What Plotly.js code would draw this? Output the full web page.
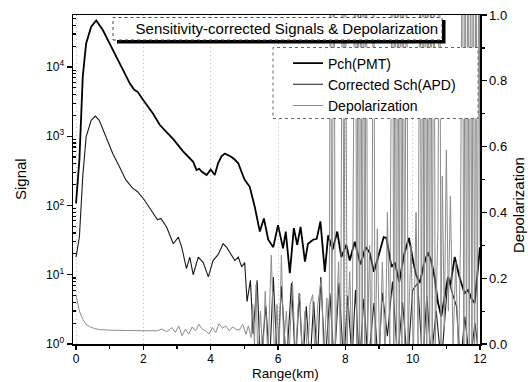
<!DOCTYPE html>
<html>
<head>
<meta charset="utf-8">
<script src="https://cdn.plot.ly/plotly-3.0.1.min.js"></script>
<style>html,body{margin:0;padding:0;background:#fff;}#chart{width:528px;height:382px;}</style>
</head>
<body>
<div id="chart"></div>
<script>
// ---- Data ----
const seriesNames = ["Pch(PMT)", "Corrected Sch(APD)", "Depolarization"];

const pmtX = [0.0,0.1,0.2,0.3,0.45,0.6,0.8,1.0,1.2,1.4,1.6,1.73,1.83,2.0,2.28,2.49,2.7,2.9,3.18,3.48,3.58,3.66,3.73,3.80,3.88,4.0,4.12,4.22,4.32,4.42,4.52,4.62,4.72,4.82,4.92,5.01,5.16,5.31,5.46,5.58,5.71,5.86,6.0,6.15,6.23,6.35,6.47,6.57,6.67,6.80,6.89,7.04,7.15,7.26,7.39,7.49,7.62,7.76,7.88,8.03,8.13,8.28,8.45,8.6,8.72,8.85,9.0,9.14,9.22,9.37,9.47,9.6,9.75,9.89,10.01,10.1,10.21,10.33,10.45,10.55,10.65,10.75,10.85,10.95,11.05,11.12,11.25,11.39,11.54,11.65,11.75,11.84,11.95,12.0];
const pmtY = [107,457,7240,21900,38000,46800,33900,21900,14100,9120,5750,4680,4370,3310,2140,1450,1150,891,603,427,324,339,309,295,275,331,275,407,513,562,537,501,457,407,302,234,186,95,42,65,32,25,52,24,42,10.5,47,27,49,15.5,28,32,33,59,11,37,23,42,18,27,16,30,14,25,21,11,20,35,34,13,15,7.9,20,34,16,10,7.6,14,21,16,9.3,4.0,2.5,5.0,9.3,7.1,18,9.3,5.4,6.0,4.5,3.9,16,25];

const apdX = [0.0,0.1,0.2,0.3,0.45,0.57,0.69,0.89,1.09,1.29,1.48,1.68,1.83,2.03,2.23,2.42,2.52,2.69,2.89,3.04,3.14,3.28,3.38,3.48,3.63,3.78,3.93,4.07,4.22,4.37,4.47,4.62,4.72,4.82,4.92,5.01,5.08,5.18,5.26,5.38,5.48,5.64,5.75,5.86,5.98,6.10,6.25,6.40,6.52,6.63,6.74,6.84,6.95,7.06,7.17,7.27,7.40,7.54,7.67,7.81,7.95,8.07,8.2,8.3,8.42,8.55,8.68,8.85,8.98,9.1,9.25,9.4,9.55,9.7,9.85,10.0,10.15,10.3,10.42,10.55,10.7,10.85,11.05,11.15,11.3,11.42,11.55,11.7,11.85,12.0];
const apdY = [18,35,263,977,1700,1950,1700,977,562,363,234,178,158,120,87,62,65,49,28,35,25,12.3,18,10,18,15,9.3,16,19.5,28,25,19.5,16,18,13,15,4.1,8.3,1.4,8.3,0.5,3.5,0.5,9.3,0.5,6.8,0.5,7.6,0.5,5.4,0.5,3.5,0.5,4.1,0.5,9.3,0.5,5.4,0.5,7.6,0.5,5.0,0.6,6.0,0.5,4.5,0.5,3.9,0.5,5.5,1.3,8.0,0.6,4.0,0.5,6.0,7.6,0.5,5.0,0.6,3.0,0.5,9.3,6.0,3.5,0.5,2.5,0.5,2.0,0.5];

const depX = [0.0,0.05,0.1,0.2,0.3,0.4,0.55,0.7,1.0,1.5,2.0,2.4,2.55,2.7,2.85,2.95,3.05,3.15,3.25,3.35,3.45,3.55,3.65,3.75,3.85,3.95,4.05,4.15,4.25,4.35,4.45,4.55,4.65,4.75,4.85,4.95,5.05,5.12,5.2,
 5.25,5.30,5.35,5.40,5.48,5.55,5.62,5.70,5.80,5.90,5.97,6.03,6.10,6.17,6.25,6.32,6.43,6.52,6.60,6.65,6.72,6.80,6.88,6.95,7.03,7.10,7.18,7.29,7.36,7.45,7.52,7.56,7.60,7.66,7.70,7.80,7.86,7.92,7.96,8.00,8.05,8.13,8.20,8.30,8.34,8.38,8.42,8.46,8.50,8.54,8.58,8.62,8.66,8.72,8.78,8.84,8.88,8.95,9.02,9.10,9.18,9.25,9.32,9.40,9.44,9.48,9.52,9.56,9.60,9.64,9.68,9.72,9.76,9.82,9.86,9.95,10.02,10.10,10.16,10.22,10.26,10.30,10.34,10.38,10.42,10.46,10.50,10.54,10.58,10.63,10.67,10.75,10.80,10.84,10.88,10.94,11.00,11.06,11.12,11.20,11.28,11.36,11.42,11.48,11.52,11.56,11.60,11.64,11.68,11.72,11.76,11.80,11.84,11.88,11.92,11.97,12.00];
const depY = [0.15,0.12,0.10,0.075,0.06,0.053,0.047,0.044,0.042,0.041,0.040,0.040,0.045,0.038,0.050,0.035,0.055,0.025,0.045,0.030,0.052,0.040,0.060,0.045,0.040,0.030,0.050,0.035,0.062,0.048,0.055,0.040,0.052,0.045,0.042,0.060,0.030,0.055,0.02,
 0.12,0.0,0.18,-0.05,0.10,-0.05,0.16,-0.05,0.27,-0.05,0.12,-0.05,0.27,0.0,0.10,-0.05,0.19,-0.05,0.12,0.15,-0.05,0.10,-0.05,0.12,0.15,-0.05,0.12,0.20,-0.05,0.14,-0.05,1.5,-0.1,1.5,0.0,0.25,-0.05,1.5,-0.1,1.5,0.0,0.22,-0.05,1.5,-0.2,1.5,-0.2,1.5,-0.2,1.5,-0.2,1.5,0.0,0.30,-0.1,1.5,-0.1,0.35,-0.05,0.25,-0.05,0.40,0.0,1.5,-0.2,1.5,-0.2,1.5,-0.2,1.5,-0.2,1.5,-0.1,1.5,0.0,0.30,-0.05,0.40,0.0,1.5,-0.2,1.5,-0.2,1.5,-0.2,1.5,-0.2,1.5,-0.1,1.5,0.0,0.35,1.5,0.0,0.51,0.05,0.59,0.10,0.45,0.0,0.25,-0.05,0.30,1.5,-0.2,1.5,-0.2,1.5,-0.2,1.5,-0.2,1.5,-0.2,1.5,-0.1,1.5,0.3];

const xTickVals = [0,2,4,6,8,10,12];
const yTickVals = [1,10,100,1000,10000];
const yTickText = ["10<sup>0</sup>","10<sup>1</sup>","10<sup>2</sup>","10<sup>3</sup>","10<sup>4</sup>"];
const yMinorVals = [2,3,4,5,6,7,8,9,20,30,40,50,60,70,80,90,200,300,400,500,600,700,800,900,
                    2000,3000,4000,5000,6000,7000,8000,9000,20000,30000,40000,50000];
const titleText = "Sensitivity-corrected Signals & Depolarization";

// ---- Layout helpers (pixel -> paper) ----
const L = 73, R = 480, T = 15, B = 344;
const px = X => (X - L) / (R - L);
const py = Y => (B - Y) / (B - T);
const FONT = "Liberation Sans, Arial, Helvetica, sans-serif";

const traces = [
  {x: pmtX, y: pmtY, name: seriesNames[0], type: 'scatter', mode: 'lines',
   line: {color: '#000', width: 1.8}, yaxis: 'y'},
  {x: apdX, y: apdY, name: seriesNames[1], type: 'scatter', mode: 'lines',
   line: {color: '#1a1a1a', width: 1.1}, yaxis: 'y'},
  {x: depX, y: depY, name: seriesNames[2], type: 'scatter', mode: 'lines',
   line: {color: '#8c8c8c', width: 1}, yaxis: 'y2'}
];

const layout = {
  width: 528, height: 382,
  margin: {l: L, r: 528 - R, t: T, b: 382 - B, pad: 0},
  paper_bgcolor: '#fff', plot_bgcolor: '#fff',
  font: {family: FONT, size: 13, color: '#000'},
  showlegend: true,
  title: {text: titleText, font: {family: FONT, size: 15, color: '#000'},
          x: 277.5 / 528, y: 1 - 28.5 / 382, xanchor: 'center', yanchor: 'middle', xref: 'paper', yref: 'container'},
  xaxis: {
    range: [-0.09, 12], tickmode: 'array', tickvals: xTickVals,
    ticks: 'outside', ticklen: 4, tickwidth: 1.2, tickcolor: '#000', ticklabelstandoff: -1,
    minor: {dtick: 1, ticks: 'outside', ticklen: 3, tickcolor: '#000', showgrid: false},
    showline: true, linecolor: '#000', linewidth: 1.5, mirror: true,
    showgrid: true, gridcolor: '#bdbdbd', griddash: '1px,3px', gridwidth: 1,
    zeroline: false, tickfont: {size: 12}
  },
  yaxis: {
    type: 'log', range: [0, 4.75], tickmode: 'array', tickvals: yTickVals, ticktext: yTickText,
    ticks: 'outside', ticklen: 5, tickwidth: 1.2, tickcolor: '#000',
    minor: {tickmode: 'array', tickvals: yMinorVals, ticks: 'inside', ticklen: 3, tickcolor: '#000', showgrid: false},
    showline: true, linecolor: '#000', linewidth: 1.5,
    showgrid: false, zeroline: false, tickfont: {size: 12}
  },
  yaxis2: {
    overlaying: 'y', side: 'right', range: [0, 1], dtick: 0.2, tick0: 0, tickformat: '.1f',
    ticks: 'outside', ticklen: 5, tickwidth: 1.2, tickcolor: '#000',
    minor: {dtick: 0.1, ticks: 'outside', ticklen: 3, tickcolor: '#000', showgrid: false},
    showline: true, linecolor: '#000', linewidth: 1.5,
    showgrid: false, zeroline: false, tickfont: {size: 13}
  },
  legend: {
    x: px(288), y: py(47.5), xanchor: 'left', yanchor: 'top',
    bgcolor: 'rgba(0,0,0,0)', borderwidth: 0,
    font: {family: FONT, size: 14, color: '#000'}
  },
  shapes: [
    // title box shadow
    {type: 'rect', xref: 'paper', yref: 'paper', layer: 'above',
     x0: px(117), x1: px(445.5), y0: py(43.5), y1: py(20),
     fillcolor: '#000', line: {width: 0}},
    // title box
    {type: 'rect', xref: 'paper', yref: 'paper', layer: 'above',
     x0: px(113), x1: px(442), y0: py(40), y1: py(17.5),
     fillcolor: '#fff', line: {color: '#444', width: 1, dash: 'dot'}},
    // legend box
    {type: 'rect', xref: 'paper', yref: 'paper', layer: 'above',
     x0: px(273), x1: px(478), y0: py(118.5), y1: py(47.5),
     fillcolor: '#fff', line: {color: '#666', width: 1, dash: 'dot'}}
  ],
  annotations: [
    {text: 'Range(km)', xref: 'paper', yref: 'paper', x: px(285), y: py(382), borderpad: 0,
     xanchor: 'center', yanchor: 'bottom', showarrow: false, font: {family: FONT, size: 13.5}},
    {text: 'Signal', xref: 'paper', yref: 'paper', x: px(20), y: py(179), textangle: -90,
     xanchor: 'center', yanchor: 'middle', showarrow: false, font: {family: FONT, size: 15}},
    {text: 'Depolarization', xref: 'paper', yref: 'paper', x: px(518), y: py(205), textangle: -90,
     xanchor: 'center', yanchor: 'middle', showarrow: false, font: {family: FONT, size: 15}}
  ]
};

Plotly.newPlot('chart', traces, layout, {displayModeBar: false, staticPlot: true});
</script>
</body>
</html>
